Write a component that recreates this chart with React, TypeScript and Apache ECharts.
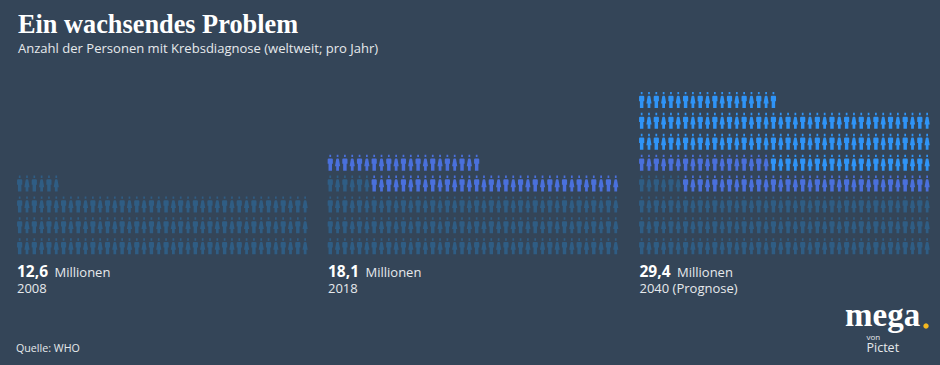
import React, { useEffect, useRef } from "react";
import * as echarts from "echarts";

const valueLabels = ["12,6", "18,1", "29,4"];
const periodLabels = ["2008", "2018", "2040 (Prognose)"];
const darkCounts = [126, 126, 126];
const midCounts = [0, 55, 52];
const lightCounts = [0, 0, 121];
const panelLefts = [16, 326.6, 638];
const colors = ["#2f5d84", "#4a70dc", "#2f94f7"];
const PER_ROW = 40;

const male = "M2 0h2v2.4h-2zM1.2 3.8h3.6q1.2 0 1.2 1v4.4h-1v6.8h-4v-6.8h-1v-4.4q0-1 1.2-1z";
const female = "M2 0h2v2.4h-2zM2.2 3.8h1.6q.6 0 .8 .8l1.4 7h-1.4v4.4h-3.2v-4.4h-1.4l1.4-7q.2-.8 .8-.8z";

function panelSeries(panel: number) {
  const counts = [darkCounts[panel], midCounts[panel], lightCounts[panel]];
  const groups: Record<string, [number, number][]>[] = counts.map(() => ({ m: [], f: [] }));
  let idx = 0;
  counts.forEach((n, c) => {
    for (let i = 0; i < n; i++, idx++) {
      const col = idx % PER_ROW;
      groups[c][col % 2 === 0 ? "m" : "f"].push([col, Math.floor(idx / PER_ROW)]);
    }
  });
  const out: any[] = [];
  groups.forEach((g, c) => {
    (["m", "f"] as const).forEach((k) => {
      if (!g[k].length) return;
      out.push({
        type: "scatter",
        xAxisIndex: panel,
        yAxisIndex: panel,
        silent: true,
        symbol: "path://" + (k === "m" ? male : female),
        symbolSize: [5.2, 16],
        itemStyle: { color: colors[c], opacity: 1 },
        data: g[k],
      });
    });
  });
  return out;
}

const sans = "'Open Sans', sans-serif";

function labels() {
  const out: any[] = [];
  valueLabels.forEach((v, i) => {
    const x = [17, 328, 639.5][i];
    out.push({ type: "text", x, y: 263, style: { text: v, fill: "#ffffff", font: `700 15.5px ${sans}` } });
    out.push({ type: "text", x: x + 37.5, y: 265, style: { text: "Millionen", fill: "#e6e9ec", font: `400 13px ${sans}` } });
    out.push({ type: "text", x, y: 281, style: { text: periodLabels[i], fill: "#e6e9ec", font: `400 13px ${sans}` } });
  });
  return out;
}

export default function App() {
  const ref = useRef<HTMLDivElement>(null);
  useEffect(() => {
    document.body.style.margin = "0";
    const chart = echarts.init(ref.current!, undefined, { renderer: "svg" });
    const idxs = [0, 1, 2];
    chart.setOption({
      animation: false,
      backgroundColor: "#344558",
      grid: idxs.map((i) => ({ left: panelLefts[i], top: 89.5, width: 292.8, height: 167.2 })),
      xAxis: idxs.map((i) => ({ type: "value", gridIndex: i, min: -0.5, max: 39.5, show: false })),
      yAxis: idxs.map((i) => ({ type: "value", gridIndex: i, min: -0.5, max: 7.5, show: false })),
      series: idxs.flatMap(panelSeries),
      graphic: [
        { type: "text", x: 18, y: 11, style: { text: "Ein wachsendes Problem", fill: "#ffffff", font: "700 26.3px 'Liberation Serif', serif" } },
        { type: "text", x: 18, y: 41, style: { text: "Anzahl der Personen mit Krebsdiagnose (weltweit; pro Jahr)", fill: "#e6e9ec", font: `400 13.05px ${sans}` } },
        ...labels(),
        { type: "text", x: 16, y: 342, style: { text: "Quelle: WHO", fill: "#e6e9ec", font: `400 10.7px ${sans}` } },
        { type: "text", x: 845, y: 298, style: { text: "mega", fill: "#ffffff", font: "700 33px 'Liberation Serif', serif" } },
        { type: "circle", shape: { cx: 926, cy: 326, r: 2.7 }, style: { fill: "#f5b81f" } },
        { type: "text", x: 866.5, y: 332.5, style: { text: "von", fill: "#e6e9ec", font: `400 8px ${sans}` } },
        { type: "text", x: 866.5, y: 340.5, style: { text: "Pictet", fill: "#e6e9ec", font: `400 12.5px ${sans}` } },
      ],
    });
    return () => chart.dispose();
  }, []);
  return <div ref={ref} style={{ width: 940, height: 365 }} />;
}
